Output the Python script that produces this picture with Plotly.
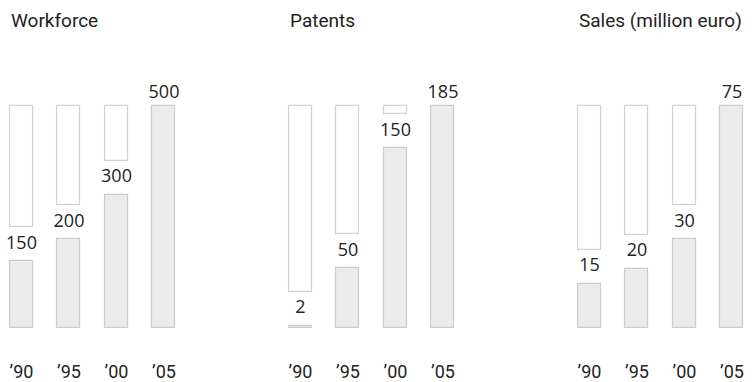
import plotly.graph_objects as go

years = ["\u201990", "\u201995", "\u201900", "\u201905"]
titles = ["Workforce", "Patents", "Sales (million euro)"]
workforce = [150, 200, 300, 500]
patents = [2, 50, 150, 185]
sales = [15, 20, 30, 75]
series = [workforce, patents, sales]

W, H = 752, 382
BOTTOM_PX = 328      # baseline pixel (from top)
MAX_PX = 222         # pixel height of the max bar
TOP_PX = 66          # top of plotting domain (from top)
GAP_PX = 34          # gap between filled and outline bars
TOPLABEL_PX = 13     # label offset above the max bar
STEP_PX = 47.5       # category spacing
first_bar_center = [21.5, 300.5, 589.5]
BAR_W_PX = 23

fig = go.Figure()
for i, (vals, title) in enumerate(zip(series, titles)):
    n = i + 1
    xa = "x" if n == 1 else f"x{n}"
    ya = "y" if n == 1 else f"y{n}"
    vmax = max(vals)
    unit = vmax / MAX_PX
    gap = GAP_PX * unit
    bw = BAR_W_PX / STEP_PX
    bases, hts, ly = [], [], []
    for v in vals:
        b = v + gap
        if b < vmax:
            bases.append(b)
            hts.append(vmax - b)
            ly.append(v + gap / 2)
        else:
            bases.append(0)
            hts.append(None)
            ly.append(v + TOPLABEL_PX * unit)
    fig.add_trace(go.Bar(x=years, y=hts, base=bases, width=bw,
                         marker=dict(color="white", line=dict(color="#d2d2d2", width=1.2)),
                         xaxis=xa, yaxis=ya, showlegend=False, hoverinfo="skip"))
    fig.add_trace(go.Bar(x=years, y=vals, width=bw,
                         marker=dict(color="#ebebeb", line=dict(color="#cccccc", width=1.2)),
                         xaxis=xa, yaxis=ya, showlegend=False, hoverinfo="skip"))
    fig.add_trace(go.Scatter(x=years, y=ly, mode="text",
                             text=[str(v) for v in vals], textposition="middle center",
                             textfont=dict(family="Open Sans", size=18, color="#222"),
                             xaxis=xa, yaxis=ya, showlegend=False, hoverinfo="skip"))
    c0 = first_bar_center[i]
    left_units, right_units = -0.45, 3.4
    x0 = c0 + left_units * STEP_PX
    x1 = c0 + right_units * STEP_PX
    dom_x = [max(0, x0 / W), min(1, x1 / W)]
    dom_y = [(H - BOTTOM_PX) / H, (H - TOP_PX) / H]
    ytop = vmax * (BOTTOM_PX - TOP_PX) / MAX_PX
    fig.layout[("xaxis" if n == 1 else f"xaxis{n}")] = dict(
        domain=dom_x, range=[left_units, right_units], anchor=ya, type="category",
        showgrid=False, zeroline=False, showline=False, ticks="",
        tickfont=dict(family="Roboto", size=18, color="#222"), ticklabelstandoff=31)
    fig.layout[("yaxis" if n == 1 else f"yaxis{n}")] = dict(
        domain=dom_y, range=[0, ytop], anchor=xa, visible=False, fixedrange=True)
    fig.add_annotation(text=title, xref="paper", yref="paper",
                       x=(c0 - BAR_W_PX / 2 - 1) / W, y=(H - 20) / H,
                       xanchor="left", yanchor="middle", showarrow=False,
                       font=dict(family="Roboto", size=19, color="#222"))

fig.update_layout(width=W, height=H, margin=dict(l=0, r=0, t=0, b=0),
                  paper_bgcolor="white", plot_bgcolor="white", barmode="overlay",
                  bargap=0)
fig.write_html("out.html")
